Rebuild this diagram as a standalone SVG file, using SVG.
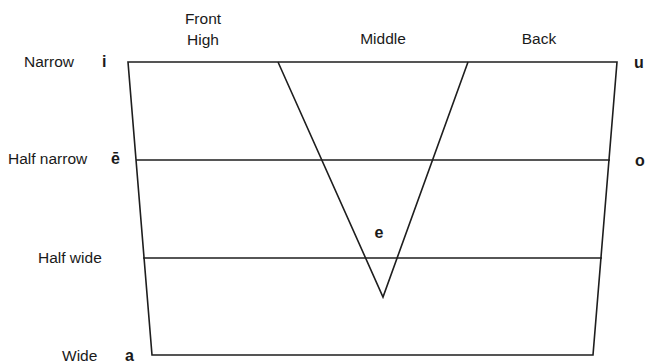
<svg xmlns="http://www.w3.org/2000/svg" width="646" height="364" viewBox="0 0 646 364">
<style>
text{font-family:"Liberation Sans",Arial,sans-serif;font-size:15.5px;fill:#1a1a1a}
.b{font-weight:bold;font-size:16px}
.m{text-anchor:middle}
line,polyline,polygon{stroke:#1e1e1e;stroke-width:1.6;fill:none}
</style>
<rect width="646" height="364" fill="#fff"/>
<g id="connectors">
<polygon points="128,62 617,62 593,355 152,355"/>
<line x1="136" y1="160" x2="610" y2="160"/>
<line x1="143" y1="258" x2="602" y2="258"/>
<polyline points="278,62 383,297 468,62"/>
</g>
<g id="col-front"><text class="m" x="203" y="24">Front</text><text class="m" x="203" y="45">High</text></g>
<g id="col-middle"><text class="m" x="383" y="44">Middle</text></g>
<g id="col-back"><text class="m" x="539" y="44">Back</text></g>
<g id="row-narrow"><text x="24" y="67">Narrow</text><text class="b" x="102" y="67">i</text><text class="b" x="634" y="68">u</text></g>
<g id="row-halfnarrow"><text x="8" y="164">Half narrow</text><text class="b" x="111" y="164">ē</text><text class="b" x="635" y="166">o</text></g>
<g id="row-halfwide"><text x="38" y="263">Half wide</text><text class="b m" x="379" y="238">e</text></g>
<g id="row-wide"><text x="62" y="361">Wide</text><text class="b" x="125" y="361">a</text></g>
</svg>
